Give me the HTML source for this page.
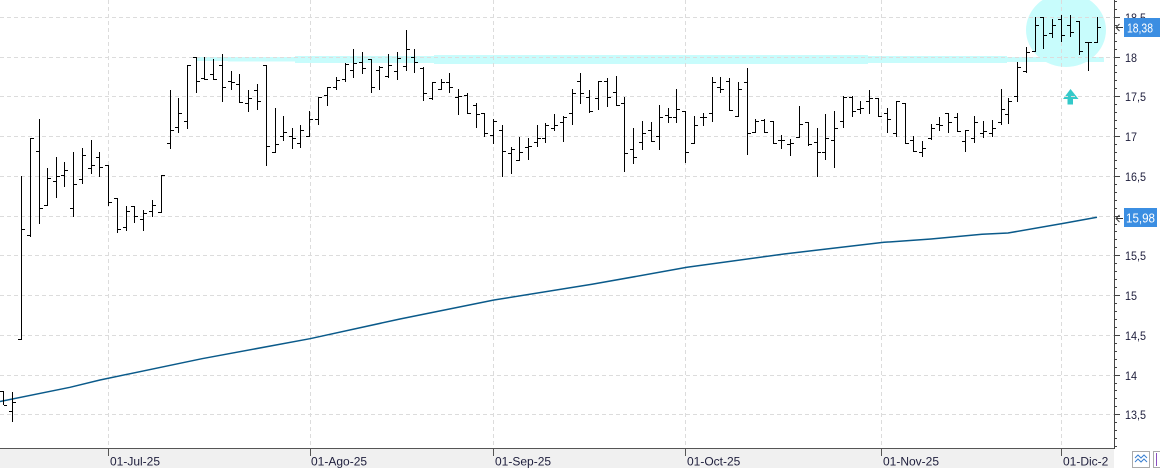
<!DOCTYPE html>
<html>
<head>
<meta charset="utf-8">
<style>
html,body{margin:0;padding:0;background:#fff;}
svg{display:block;}
text{font-family:"Liberation Sans",Arial,sans-serif;}
</style>
</head>
<body>
<svg width="1160" height="472" viewBox="0 0 1160 472" xmlns="http://www.w3.org/2000/svg">
<rect x="0" y="0" width="1160" height="472" fill="#ffffff"/>
<g fill="#c8fcfc">
<rect x="196" y="57" width="32" height="4"/>
<rect x="228" y="57" width="67" height="4.5"/>
<rect x="295" y="56" width="139" height="7"/>
<rect x="434" y="55" width="434" height="9"/>
<rect x="868" y="56" width="139" height="7"/>
<rect x="1007" y="57" width="97" height="5"/>
<ellipse cx="1066" cy="30" rx="40" ry="37"/>
</g>
<path d="M1070.5 89 L1078.5 99 L1073 99 L1073 104.5 L1067.5 104.5 L1067.5 99 L1063 99 Z" fill="#33c9c9"/>
<g stroke="#dcdcdc" stroke-width="1" stroke-dasharray="4 3" fill="none">
<path d="M0 17.5H1114M0 57.5H1114M0 96.5H1114M0 136.5H1114M0 176.5H1114M0 216.5H1114M0 255.5H1114M0 295.5H1114M0 335.5H1114M0 375.5H1114M0 414.5H1114"/>
<path d="M108.5 0V449M310.5 0V449M493.5 0V449M685.5 0V449M881.5 0V449M1061.5 0V449"/>
</g>
<polyline fill="none" stroke="#0a5a8a" stroke-width="1.5" points="0,401.5 70,387.3 100,380 202,358.7 310,338.7 400,319 494,300 592,284.3 687,267.3 784,254 884,242.3 931,239 982,234.3 1008,233 1064,223.3 1097,217.3"/>
<path fill="none" stroke="#000" stroke-width="1" d="M3.5 391V405M0 391.5H3M4 405.5H7 M12.5 392V422M9 411.5H12M13 402.5H16 M21.5 176V340M18 339.5H21M22 229.5H25 M30.5 138V237M27 235.5H30M31 138.5H34 M39.5 119V224M36 151.5H39M40 208.5H43 M47.5 168V206M44 205.5H47M48 178.5H51 M56.5 157V198M53 181.5H56M57 176.5H60 M64.5 162V187M61 175.5H64M65 170.5H68 M73.5 152V217M70 208.5H73M74 184.5H77 M82.5 148V184M79 179.5H82M83 155.5H86 M91.5 140V174M88 168.5H91M92 165.5H95 M99.5 152V177M96 157.5H99M100 167.5H103 M108.5 165V206M105 165.5H108M109 202.5H112 M117.5 198V233M114 198.5H117M118 229.5H121 M126.5 206V231M123 227.5H126M127 211.5H130 M134.5 206V223M131 206.5H134M135 216.5H138 M143.5 210V231M140 219.5H143M144 213.5H147 M152.5 200V217M149 211.5H152M153 205.5H156 M161.5 175V213M158 212.5H161M162 175.5H165 M170.5 90V149M167 143.5H170M171 130.5H174 M178.5 98V133M175 127.5H178M179 113.5H182 M187.5 65V129M184 121.5H187M188 65.5H191 M196.5 57V93M193 57.5H196M197 81.5H200 M204.5 57V80M201 78.5H204M205 79.5H208 M213.5 59V80M210 74.5H213M214 79.5H217 M222.5 54V102M219 65.5H222M223 87.5H226 M231.5 71V90M228 81.5H231M232 82.5H235 M239.5 74V103M236 84.5H239M240 102.5H243 M248.5 90V112M245 103.5H248M249 98.5H252 M257.5 84V110M254 90.5H257M258 101.5H261 M266.5 65V166M263 65.5H266M267 146.5H270 M275.5 108V153M272 152.5H275M276 144.5H279 M283.5 116V141M280 136.5H283M284 132.5H287 M292.5 128V149M289 136.5H292M293 138.5H296 M300.5 125V148M297 143.5H300M301 130.5H304 M309.5 111V137M306 136.5H309M310 119.5H313 M318.5 97V125M315 119.5H318M319 97.5H322 M327.5 87V106M324 95.5H327M328 87.5H331 M336.5 77V90M333 87.5H336M337 80.5H340 M345.5 63V82M342 79.5H345M346 64.5H349 M353.5 49V78M350 70.5H353M354 63.5H357 M362.5 52V74M359 62.5H362M363 68.5H366 M371.5 59V93M368 59.5H371M372 87.5H375 M379.5 66V90M376 70.5H379M380 67.5H383 M388.5 54V78M385 76.5H388M389 65.5H392 M397.5 52V80M394 71.5H397M398 58.5H401 M406.5 30V71M403 66.5H406M407 49.5H410 M414.5 49V73M411 57.5H414M415 62.5H418 M423.5 67V101M420 68.5H423M424 93.5H427 M432.5 82V100M429 98.5H432M433 82.5H436 M441.5 79V90M438 89.5H441M442 82.5H445 M449.5 73V93M446 82.5H449M450 87.5H453 M458.5 89V115M455 97.5H458M459 96.5H462 M467.5 93V114M464 95.5H467M468 113.5H471 M476.5 103V128M473 105.5H476M477 114.5H480 M484.5 113V137M481 113.5H484M485 133.5H488 M493.5 119V144M490 135.5H493M494 121.5H497 M502.5 125V177M499 130.5H502M503 151.5H506 M511.5 147V174M508 153.5H511M512 149.5H515 M519.5 137V161M516 160.5H519M520 152.5H523 M528.5 138V160M525 147.5H528M529 146.5H532 M537.5 125V147M534 142.5H537M538 138.5H541 M545.5 123V143M542 138.5H545M546 125.5H549 M554.5 114V131M551 128.5H554M555 125.5H558 M563.5 116V142M560 122.5H563M564 117.5H567 M572.5 89V125M569 113.5H572M573 93.5H576 M580.5 73V104M577 81.5H580M581 93.5H584 M589.5 90V113M586 97.5H589M590 111.5H593 M598.5 81V110M595 98.5H598M599 81.5H602 M607.5 78V107M604 81.5H607M608 97.5H611 M616.5 76V106M613 92.5H616M617 105.5H620 M624.5 97V172M621 103.5H624M625 153.5H628 M633.5 128V164M630 149.5H633M634 157.5H637 M642.5 121V150M639 142.5H642M643 133.5H646 M651.5 122V142M648 130.5H651M652 141.5H655 M659.5 105V150M656 136.5H659M660 117.5H663 M668.5 108V123M665 115.5H668M669 117.5H672 M676.5 89V123M673 117.5H676M677 109.5H680 M685.5 111V163M682 111.5H685M686 152.5H689 M694.5 116V144M691 143.5H694M695 125.5H698 M703.5 113V126M700 117.5H703M704 117.5H707 M712.5 77V122M709 113.5H712M713 82.5H716 M720.5 77V93M717 87.5H720M721 89.5H724 M729.5 78V111M726 81.5H729M730 110.5H733 M738.5 82V117M735 116.5H738M739 89.5H742 M747.5 68V155M744 82.5H747M748 133.5H751 M755.5 119V133M752 132.5H755M756 121.5H759 M764.5 119V133M761 120.5H764M765 132.5H768 M773.5 121V144M770 121.5H773M774 143.5H777 M781.5 135V149M778 140.5H781M782 140.5H785 M790.5 139V156M787 144.5H790M791 143.5H794 M799.5 106V138M796 137.5H799M800 124.5H803 M808.5 122V146M805 122.5H808M809 144.5H812 M817.5 128V177M814 142.5H817M818 152.5H821 M825.5 114V160M822 152.5H825M826 138.5H829 M834.5 111V168M831 140.5H834M835 128.5H838 M843.5 96V128M840 121.5H843M844 97.5H847 M852.5 96V117M849 97.5H852M853 111.5H856 M860.5 101V114M857 109.5H860M861 108.5H864 M869.5 90V114M866 101.5H869M870 98.5H873 M878.5 98V117M875 98.5H878M879 116.5H882 M887.5 108V133M884 113.5H887M888 119.5H891 M896.5 101V137M893 133.5H896M897 101.5H900 M905.5 103V144M902 103.5H905M906 143.5H909 M913.5 136V152M910 140.5H913M914 151.5H917 M922.5 141V157M919 152.5H922M923 148.5H926 M931.5 124V140M928 138.5H931M932 128.5H935 M939.5 117V131M936 124.5H939M940 125.5H943 M948.5 113V133M945 113.5H948M949 122.5H952 M957.5 113V132M954 117.5H957M958 131.5H961 M965.5 130V152M962 141.5H965M966 130.5H969 M974.5 116V143M971 138.5H974M975 122.5H978 M983.5 121V138M980 133.5H983M984 131.5H987 M992.5 120V137M989 133.5H992M993 128.5H996 M1001.5 89V125M998 122.5H1001M1002 109.5H1005 M1008.5 98V124M1005 114.5H1008M1009 101.5H1012 M1017.5 62V102M1014 96.5H1017M1018 67.5H1021 M1026.5 47V73M1023 71.5H1026M1027 52.5H1030 M1035.5 17V52M1032 51.5H1035M1036 25.5H1039 M1043.5 17V49M1040 17.5H1043M1044 35.5H1047 M1052.5 19V38M1049 33.5H1052M1053 25.5H1056 M1061.5 15V42M1058 19.5H1061M1062 35.5H1065 M1070.5 15V37M1067 25.5H1070M1071 32.5H1074 M1079.5 21V55M1076 21.5H1079M1080 51.5H1083 M1088.5 42V71M1085 42.5H1088M1089 42.5H1092 M1097.5 17V43M1094 42.5H1097M1098 27.5H1101"/>
<rect x="0" y="449" width="1114" height="19" fill="#f0f0f0"/>
<path d="M0 448.5H1114.5" stroke="#555" stroke-width="1"/>
<path d="M108.5 449V456M310.5 449V456M493.5 449V456M685.5 449V456M881.5 449V456M1061.5 449V456" stroke="#555" stroke-width="1"/>
<g font-size="12" fill="#1e1e3c">
<text x="110" y="465.5">01-Jul-25</text>
<text x="311" y="465.5">01-Ago-25</text>
<text x="495" y="465.5">01-Sep-25</text>
<text x="687" y="465.5">01-Oct-25</text>
<text x="883" y="465.5">01-Nov-25</text>
<text x="1063" y="465.5">01-Dic-2</text>
</g>
<rect x="1115" y="0" width="45" height="449" fill="#ffffff"/>
<path d="M1114.5 0V449" stroke="#444" stroke-width="1"/>
<path stroke="#444" stroke-width="1" d="M1114 1.5H1117M1114 9.5H1117M1114 17.5H1120M1114 25.5H1117M1114 33.5H1117M1114 41.5H1117M1114 49.5H1117M1114 57.5H1120M1114 65.5H1117M1114 72.5H1117M1114 80.5H1117M1114 88.5H1117M1114 96.5H1120M1114 104.5H1117M1114 112.5H1117M1114 120.5H1117M1114 128.5H1117M1114 136.5H1120M1114 144.5H1117M1114 152.5H1117M1114 160.5H1117M1114 168.5H1117M1114 176.5H1120M1114 184.5H1117M1114 192.5H1117M1114 200.5H1117M1114 208.5H1117M1114 216.5H1120M1114 224.5H1117M1114 231.5H1117M1114 239.5H1117M1114 247.5H1117M1114 255.5H1120M1114 263.5H1117M1114 271.5H1117M1114 279.5H1117M1114 287.5H1117M1114 295.5H1120M1114 303.5H1117M1114 311.5H1117M1114 319.5H1117M1114 327.5H1117M1114 335.5H1120M1114 343.5H1117M1114 351.5H1117M1114 359.5H1117M1114 367.5H1117M1114 375.5H1120M1114 383.5H1117M1114 390.5H1117M1114 398.5H1117M1114 406.5H1117M1114 414.5H1120M1114 422.5H1117M1114 430.5H1117M1114 438.5H1117M1114 446.5H1117"/>
<g font-size="12" fill="#1e1e3c">
<text x="1125" y="22" textLength="21" lengthAdjust="spacingAndGlyphs">18,5</text>
<text x="1125" y="62" textLength="12" lengthAdjust="spacingAndGlyphs">18</text>
<text x="1125" y="101" textLength="21" lengthAdjust="spacingAndGlyphs">17,5</text>
<text x="1125" y="141" textLength="12" lengthAdjust="spacingAndGlyphs">17</text>
<text x="1125" y="181" textLength="21" lengthAdjust="spacingAndGlyphs">16,5</text>
<text x="1125" y="221" textLength="12" lengthAdjust="spacingAndGlyphs">16</text>
<text x="1125" y="260" textLength="21" lengthAdjust="spacingAndGlyphs">15,5</text>
<text x="1125" y="300" textLength="12" lengthAdjust="spacingAndGlyphs">15</text>
<text x="1125" y="340" textLength="21" lengthAdjust="spacingAndGlyphs">14,5</text>
<text x="1125" y="380" textLength="12" lengthAdjust="spacingAndGlyphs">14</text>
<text x="1125" y="419" textLength="21" lengthAdjust="spacingAndGlyphs">13,5</text>
</g>
<rect x="1124" y="18" width="36" height="19" fill="#3b8ee2"/>
<text x="1127" y="32.5" font-size="13" fill="#ffffff" textLength="26" lengthAdjust="spacingAndGlyphs">18,38</text>
<path d="M1123 27.5H1116M1119.5 24L1116 27.5L1119.5 31" stroke="#333" stroke-width="1" fill="none"/>
<rect x="1124" y="208" width="33" height="19" fill="#3b8ee2"/>
<text x="1126" y="222.5" font-size="13" fill="#ffffff" textLength="29" lengthAdjust="spacingAndGlyphs">15,98</text>
<path d="M1123 218.5H1116M1119.5 215L1116 218.5L1119.5 222" stroke="#333" stroke-width="1" fill="none"/>
<rect x="1132.5" y="451.5" width="17" height="16" fill="#fff" stroke="#aaa" stroke-width="1"/>
<path d="M1135 458L1138 455L1141 458L1144 455L1147 458M1135 462L1138 459L1141 462L1144 459L1147 462" stroke="#3a7fd0" stroke-width="1" fill="none"/>
<rect x="1153.5" y="451.5" width="10" height="16" fill="#fff" stroke="#aaa" stroke-width="1"/>
<path d="M1156.5 453V466" stroke="#8a4fc0" stroke-width="1"/>
</svg>
</body>
</html>
